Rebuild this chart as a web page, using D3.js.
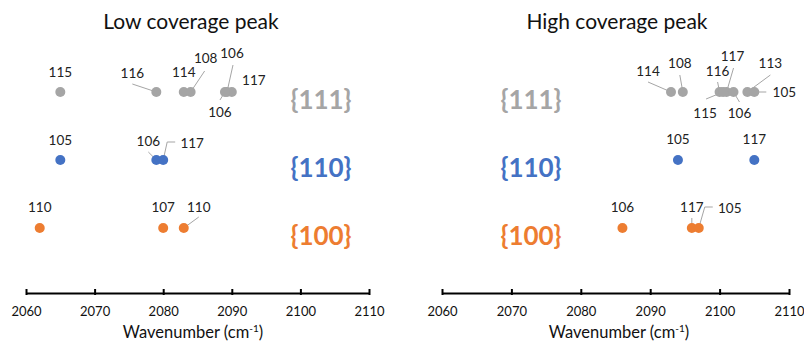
<!DOCTYPE html>
<html>
<head>
<meta charset="utf-8">
<script src="https://cdn.jsdelivr.net/npm/d3@7"></script>
<style>
  html, body { margin: 0; padding: 0; background: #ffffff; }
  svg { display: block; font-family: Lato, "Open Sans", sans-serif; }
</style>
</head>
<body>
<svg id="chart" width="804" height="352"></svg>
<script>
// Facet rows and their colours
const facets = ["{111}", "{110}", "{100}"];
const facetColors = ["#A5A5A5", "#4472C4", "#ED7D31"];
const wavenumberTicks = [2060, 2070, 2080, 2090, 2100, 2110];

// Low coverage peak positions (cm-1) with their sample labels
const lowFacet      = ["{111}", "{111}", "{111}", "{111}", "{111}", "{111}", "{111}",
                       "{110}", "{110}", "{110}",
                       "{100}", "{100}", "{100}"];
const lowWavenumber = [2065, 2079, 2083, 2084, 2089.3, 2090, 2089,
                       2065, 2079, 2080,
                       2062, 2080, 2083];
const lowLabel      = ["115", "116", "114", "108", "106", "117", "106",
                       "105", "106", "117",
                       "110", "107", "110"];

// High coverage peak positions (cm-1) with their sample labels
const highFacet      = ["{111}", "{111}", "{111}", "{111}", "{111}", "{111}", "{111}", "{111}",
                        "{110}", "{110}",
                        "{100}", "{100}", "{100}"];
const highWavenumber = [2093, 2094.7, 2100, 2101, 2100.5, 2102, 2104, 2105,
                        2094, 2105,
                        2086, 2096, 2097];
const highLabel      = ["114", "108", "116", "117", "115", "106", "113", "105",
                        "105", "117",
                        "106", "117", "105"];

// Label placement: text offset from its dot, and optional leader vertices (px from dot)
const lowLabelPlacement = [
  { dx: 0,   dy: -20, leader: null },
  { dx: -24, dy: -19, leader: [[-24, -8]] },
  { dx: 0,   dy: -20, leader: null },
  { dx: 15,  dy: -34, leader: [[14, -21]] },
  { dx: 5,   dy: -39, leader: [[6, -27]] },
  { dx: 22,  dy: -12, leader: null },
  { dx: -5,  dy: 20,  leader: [[-5, 8]] },
  { dx: 0,   dy: -20, leader: null },
  { dx: -8,  dy: -19, leader: [[-8, -8]] },
  { dx: 29,  dy: -17, leader: [[12, -18], [4, -18]] },
  { dx: 0,   dy: -21, leader: null },
  { dx: 0,   dy: -21, leader: null },
  { dx: 15,  dy: -21, leader: [[15, -11]] }
];
const highLabelPlacement = [
  { dx: -23, dy: -21, leader: [[-23, -10]] },
  { dx: -3,  dy: -29, leader: [[-3, -17]] },
  { dx: -2,  dy: -21, leader: [[-2, -10]] },
  { dx: 6,   dy: -36, leader: [[7, -24]] },
  { dx: -18, dy: 21,  leader: [[-17, 7]] },
  { dx: 6,   dy: 21,  leader: [[6, 10]] },
  { dx: 23,  dy: -29, leader: [[23, -17]] },
  { dx: 30,  dy: 0,   leader: [[12, 0]] },
  { dx: 0,   dy: -21, leader: null },
  { dx: 0,   dy: -21, leader: null },
  { dx: 0,   dy: -21, leader: null },
  { dx: 0,   dy: -21, leader: [[0, -10]] },
  { dx: 31,  dy: -20, leader: [[14, -21], [6, -21]] }
];

const svg = d3.select("#chart");
const color = d3.scaleOrdinal().domain(facets).range(facetColors);
const y = d3.scalePoint().domain(facets).range([92, 228]).padding(0);
const axisY = 293;
const dotR = 5;

function drawPanel(opts) {
  const x = d3.scaleLinear().domain([2060, 2110]).range(opts.range);
  const g = svg.append("g");

  // title
  g.append("text")
    .attr("x", opts.titleX).attr("y", 29)
    .attr("text-anchor", "middle")
    .attr("font-size", 21)
    .attr("fill", "#111")
    .text(opts.title);

  // facet labels
  g.selectAll(".facet").data(facets).join("text")
    .attr("x", opts.facetX)
    .attr("y", d => y(d) + 17)
    .attr("text-anchor", "middle")
    .attr("font-size", 26)
    .attr("font-weight", 700)
    .attr("fill", d => color(d))
    .text(d => d);

  // x axis
  const axis = d3.axisBottom(x).tickValues(wavenumberTicks).tickFormat(d3.format("d"))
    .tickSizeInner(0).tickSizeOuter(0).tickPadding(14);
  const ax = g.append("g").attr("transform", `translate(0,${axisY})`).call(axis);
  ax.select(".domain").attr("stroke", "#000").attr("stroke-width", 2);
  ax.selectAll(".tick line").attr("y1", -4).attr("y2", 2)
    .attr("stroke", "#000").attr("stroke-width", 2);
  ax.selectAll(".tick text").attr("font-size", 13).attr("fill", "#111")
    .attr("font-family", "Lato, sans-serif");

  const t = g.append("text")
    .attr("x", opts.titleX + 2).attr("y", 338)
    .attr("text-anchor", "middle")
    .attr("font-size", 16.5)
    .attr("fill", "#111");
  t.append("tspan").text("Wavenumber (cm");
  t.append("tspan").attr("font-size", 10).attr("dy", -6).text("-1");
  t.append("tspan").attr("dy", 6).text(")");

  const rows = opts.wavenumber.map((w, i) => ({
    w, facet: opts.facet[i], label: opts.label[i], place: opts.placement[i]
  }));

  // leader lines
  const leaders = rows.filter(d => d.place.leader);
  g.selectAll(".leader").data(leaders).join("path")
    .attr("fill", "none")
    .attr("stroke", "#A5A5A5")
    .attr("stroke-width", 1)
    .attr("d", d => {
      const px = x(d.w), py = y(d.facet);
      const pts = d.place.leader.map(([a, b]) => [px + a, py + b]);
      const last = d.place.leader[d.place.leader.length - 1];
      const len = Math.hypot(last[0], last[1]) || 1;
      pts.push([px + last[0] / len * dotR * 0.6, py + last[1] / len * dotR * 0.6]);
      return d3.line()(pts);
    });

  // dots
  g.selectAll(".dot").data(rows).join("circle")
    .attr("cx", d => x(d.w))
    .attr("cy", d => y(d.facet))
    .attr("r", dotR)
    .attr("fill", d => color(d.facet));

  // sample labels
  g.selectAll(".lbl").data(rows).join("text")
    .attr("x", d => x(d.w) + d.place.dx)
    .attr("y", d => y(d.facet) + d.place.dy + 5)
    .attr("text-anchor", "middle")
    .attr("font-size", 13.5)
    .attr("fill", "#222")
    .text(d => d.label);
}

drawPanel({
  title: "Low coverage peak", titleX: 191, range: [26, 369], facetX: 321,
  facet: lowFacet, wavenumber: lowWavenumber, label: lowLabel, placement: lowLabelPlacement
});
drawPanel({
  title: "High coverage peak", titleX: 617, range: [442, 789], facetX: 531,
  facet: highFacet, wavenumber: highWavenumber, label: highLabel, placement: highLabelPlacement
});
</script>
</body>
</html>
